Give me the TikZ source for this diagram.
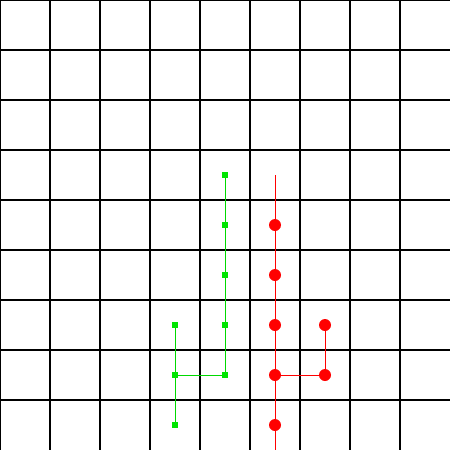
\documentclass[tikz,border=0pt]{standalone}
\usetikzlibrary{positioning}

\begin{document}
\begin{tikzpicture}[
    x=1cm, y=-1cm,
    gridline/.style={black, line width=0.6pt},
    gnode/.style={rectangle, fill=green!90!black, inner sep=0pt, minimum size=1.2mm},
    rnode/.style={circle, fill=red, inner sep=0pt, minimum size=2.4mm},
    gedge/.style={green!85!black, line width=0.55pt},
    redge/.style={red, line width=0.55pt},
]

% Canvas
\useasboundingbox (0,0) rectangle (9,9);
\fill[white] (0,0) rectangle (9,9);

% Grid
\foreach \i in {0,...,8} {
    \draw[gridline] (\i,0) -- (\i,9);
    \draw[gridline] (0,\i) -- (9,\i);
}

% Green tree
\node[gnode] (g1) at (4.5,3.5) {};
\node[gnode] (g2) at (4.5,4.5) {};
\node[gnode] (g3) at (4.5,5.5) {};
\node[gnode] (g4) at (4.5,6.5) {};
\node[gnode] (g5) at (4.5,7.5) {};
\node[gnode] (g6) at (3.5,7.5) {};
\node[gnode] (g7) at (3.5,6.5) {};
\node[gnode] (g8) at (3.5,8.5) {};

\draw[gedge] (g1) -- (g2) -- (g3) -- (g4) -- (g5);
\draw[gedge] (g5) -- (g6);
\draw[gedge] (g7) -- (g6) -- (g8);

% Red tree
\coordinate (rtop) at (5.5,3.5);
\coordinate (rbot) at (5.5,9);
\node[rnode] (r1) at (5.5,4.5) {};
\node[rnode] (r2) at (5.5,5.5) {};
\node[rnode] (r3) at (5.5,6.5) {};
\node[rnode] (r4) at (5.5,7.5) {};
\node[rnode] (r5) at (5.5,8.5) {};
\node[rnode] (r6) at (6.5,7.5) {};
\node[rnode] (r7) at (6.5,6.5) {};

\draw[redge] (rtop) -- (r1) -- (r2) -- (r3) -- (r4) -- (r5) -- (rbot);
\draw[redge] (r4) -- (r6) -- (r7);

\end{tikzpicture}
\end{document}
